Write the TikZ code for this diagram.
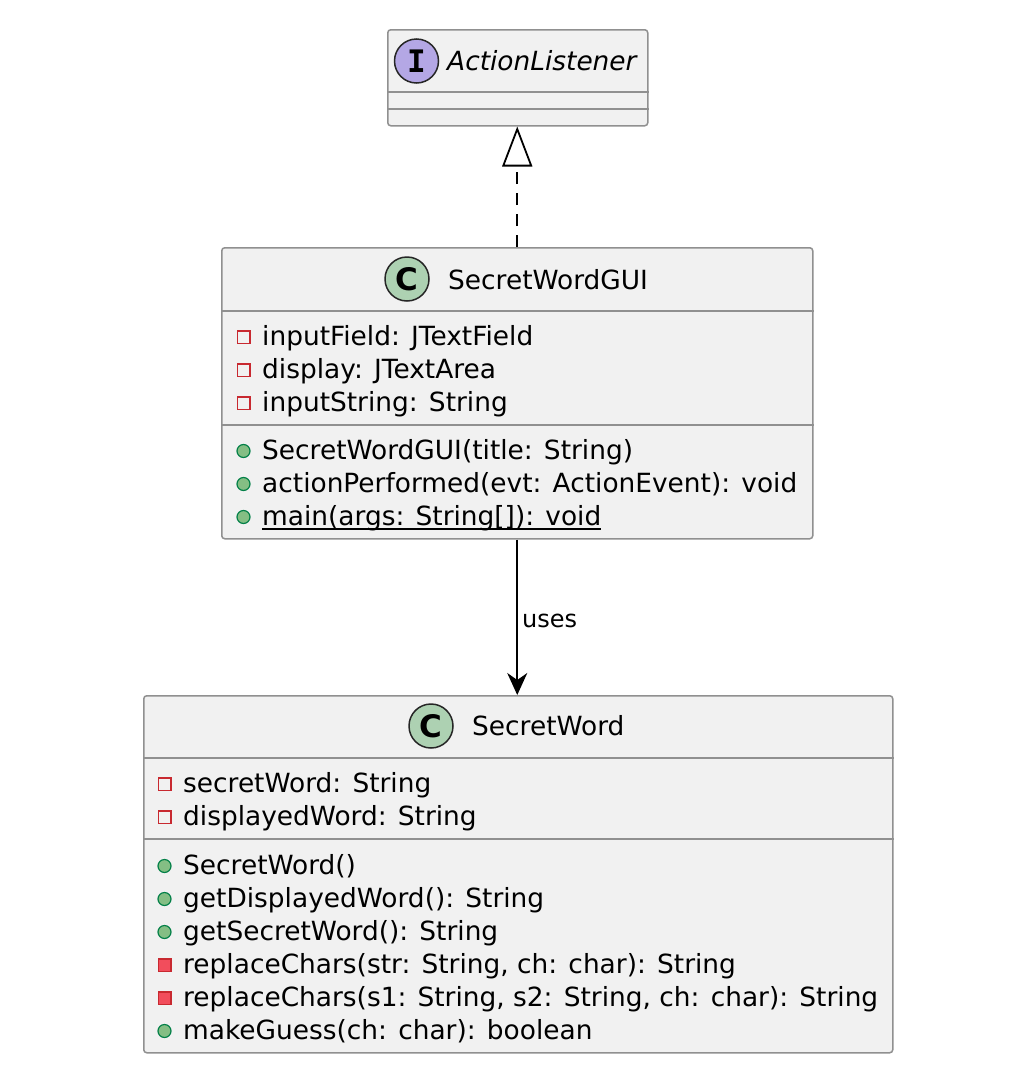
\documentclass[tikz,border=0pt]{standalone}
\usepackage{fontspec}
\setmainfont{DejaVu Sans}
\newfontfamily\iconfont{DejaVu Sans Mono}
\usetikzlibrary{arrows.meta, positioning}
\definecolor{boxfill}{HTML}{F1F1F1}
\definecolor{boxline}{HTML}{909090}
\definecolor{classgreen}{HTML}{ADD1B2}
\definecolor{ifacepurple}{HTML}{B4A7E5}
\definecolor{privred}{HTML}{C82930}
\definecolor{privfill}{HTML}{F24D5C}
\definecolor{pubgreen}{HTML}{038048}
\definecolor{pubfill}{HTML}{84BE84}
\def\rowh{33}
\tikzset{
    umlbox/.style = {
        draw=boxline, fill=boxfill, line width=1.5pt, rounded corners=3pt, inner sep=0pt, anchor=north west
    },
    sepline/.style = {draw=boxline, line width=1.5pt},
    member/.style = {anchor=base west, inner sep=0pt, font=\fontsize{26.4}{33}\selectfont},
    headicon/.style = {
        circle, draw=black!85, line width=1.5pt, minimum size=44pt, inner sep=0pt, font=\bfseries\fontsize{31}{31}\selectfont
    },
    privattr/.style = {rectangle, draw=privred, line width=1.5pt, minimum size=12.5pt, inner sep=0pt},
    privop/.style = {privattr, fill=privfill},
    pubop/.style = {circle, draw=pubgreen, fill=pubfill, line width=1.2pt, minimum size=13pt, inner sep=0pt},
    link/.style = {line width=1.8pt, black},
}

\begin{document}
\begin{tikzpicture}[x=1pt, y=-1pt]
        \useasboundingbox[fill=white] (0,0) rectangle (1024,1090);
        % Place the boxes
        \node[umlbox, minimum width=260pt, minimum height=96pt] (al) at (387,29) {};
        \node[umlbox, minimum width=591pt, minimum height=291pt] (gui) at (221,247) {};
        \node[umlbox, minimum width=749pt, minimum height=357pt] (sw) at (143,695) {};
        % Compartment lines
        \draw[sepline] ([yshift=-63pt] al.north west) -- ([yshift=-63pt] al.north east);
        \draw[sepline] ([yshift=-80pt] al.north west) -- ([yshift=-80pt] al.north east);
        \draw[sepline] ([yshift=-64pt] gui.north west) -- ([yshift=-64pt] gui.north east);
        \draw[sepline] ([yshift=-178pt] gui.north west) -- ([yshift=-178pt] gui.north east);
        \draw[sepline] ([yshift=-63pt] sw.north west) -- ([yshift=-63pt] sw.north east);
        \draw[sepline] ([yshift=-144pt] sw.north west) -- ([yshift=-144pt] sw.north east);

        % Headers
        \node[headicon, fill=ifacepurple] (al-icon) at (416.5,61) {\iconfont\bfseries I};
        \node[member] (al-name) at (447,70) {\itshape ActionListener};
        \node[headicon, fill=classgreen] (gui-icon) at (407,279) {C};
        \node[member] (gui-name) at (448,289) {SecretWordGUI};
        \node[headicon, fill=classgreen] (sw-icon) at (431,726) {C};
        \node[member] (sw-name) at (472,735) {SecretWord};

        % Members of SecretWordGUI
        \foreach \txt/\vis [count=\i from 0] in {{inputField: JTextField}/privattr, {display: JTextArea}/privattr, {inputString: String}/privattr}{
            \node[\vis] (guiattr\i-vis) at (243.5, 337+\rowh*\i) {};
            \node[member] (guiattr\i) at (262, 345+\rowh*\i) {\txt};
        }
        \foreach \txt/\vis [count=\i from 0] in {{SecretWordGUI(title: String)}/pubop, {actionPerformed(evt: ActionEvent): void}/pubop, {main(args: String[]): void}/pubop}{
            \node[\vis] (guiop\i-vis) at (243.5, 451+\rowh*\i) {};
            \node[member] (guiop\i) at (262, 459+\rowh*\i) {\txt};
        }
        \draw[line width=1.6pt] ([yshift=-4pt] guiop2.base west) -- ([yshift=-4pt] guiop2.base east);

        % Members of SecretWord
        \foreach \txt/\vis [count=\i from 0] in {{secretWord: String}/privattr, {displayedWord: String}/privattr}{
            \node[\vis] (swattr\i-vis) at (164.5, 784+\rowh*\i) {};
            \node[member] (swattr\i) at (183, 792+\rowh*\i) {\txt};
        }
        \foreach \txt/\vis [count=\i from 0] in {{SecretWord()}/pubop, {getDisplayedWord(): String}/pubop, {getSecretWord(): String}/pubop, {replaceChars(str: String, ch: char): String}/privop, {replaceChars(s1: String, s2: String, ch: char): String}/privop, {makeGuess(ch: char): boolean}/pubop}{
            \node[\vis] (swop\i-vis) at (164.5, 866+\rowh*\i) {};
            \node[member] (swop\i) at (183, 874+\rowh*\i) {\txt};
        }

        % Draw connections
        \draw[link, dash pattern=on 12pt off 9pt, -{Triangle[open, length=40pt, width=30pt, fill=white]}] (gui.north) -- (gui.north |- al.south);
        \draw[link, -{Stealth[length=22pt, width=20pt, inset=7pt]}] (gui.south) -- (gui.south |- sw.north)
            node[pos=0.567, anchor=base west, xshift=4pt, inner sep=0pt, font=\fontsize{24}{28}\selectfont] (uses) {uses};
    \end{tikzpicture}
\end{document}
